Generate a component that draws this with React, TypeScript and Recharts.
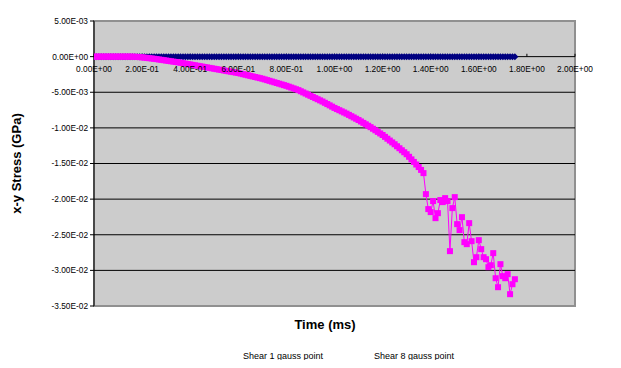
import React from 'react';
import { ScatterChart, Scatter, XAxis, YAxis, ReferenceLine, ReferenceArea } from 'recharts';

const time = [
  0, 0.01, 0.02, 0.03, 0.04, 0.05, 0.06, 0.07, 0.08, 0.09,
  0.1, 0.11, 0.12, 0.13, 0.14, 0.15, 0.16, 0.17, 0.18, 0.19,
  0.2, 0.21, 0.22, 0.23, 0.24, 0.25, 0.26, 0.27, 0.28, 0.29,
  0.3, 0.31, 0.32, 0.33, 0.34, 0.35, 0.36, 0.37, 0.38, 0.39,
  0.4, 0.41, 0.42, 0.43, 0.44, 0.45, 0.46, 0.47, 0.48, 0.49,
  0.5, 0.51, 0.52, 0.53, 0.54, 0.55, 0.56, 0.57, 0.58, 0.59,
  0.6, 0.61, 0.62, 0.63, 0.64, 0.65, 0.66, 0.67, 0.68, 0.69,
  0.7, 0.71, 0.72, 0.73, 0.74, 0.75, 0.76, 0.77, 0.78, 0.79,
  0.8, 0.81, 0.82, 0.83, 0.84, 0.85, 0.86, 0.87, 0.88, 0.89,
  0.9, 0.91, 0.92, 0.93, 0.94, 0.95, 0.96, 0.97, 0.98, 0.99,
  1.0, 1.01, 1.02, 1.03, 1.04, 1.05, 1.06, 1.07, 1.08, 1.09,
  1.1, 1.11, 1.12, 1.13, 1.14, 1.15, 1.16, 1.17, 1.18, 1.19,
  1.2, 1.21, 1.22, 1.23, 1.24, 1.25, 1.26, 1.27, 1.28, 1.29,
  1.3, 1.31, 1.32, 1.33, 1.34, 1.35, 1.36, 1.37, 1.38, 1.39,
  1.4, 1.41, 1.42, 1.43, 1.44, 1.45, 1.46, 1.47, 1.48, 1.49,
  1.5, 1.51, 1.52, 1.53, 1.54, 1.55, 1.56, 1.57, 1.58, 1.59,
  1.6, 1.61, 1.62, 1.63, 1.64, 1.65, 1.66, 1.67, 1.68, 1.69,
  1.7, 1.71, 1.72, 1.73, 1.74, 1.75,
];

const shear1 = [
  0, 0, 0, 0, 0, 0, 0, 0, 0, 0, 0, 0, 0, 0, 0, 0, 0, 0, 0, 0,
  0, 0, 0, 0, 0, 0, 0, 0, 0, 0, 0, 0, 0, 0, 0, 0, 0, 0, 0, 0,
  0, 0, 0, 0, 0, 0, 0, 0, 0, 0, 0, 0, 0, 0, 0, 0, 0, 0, 0, 0,
  0, 0, 0, 0, 0, 0, 0, 0, 0, 0, 0, 0, 0, 0, 0, 0, 0, 0, 0, 0,
  0, 0, 0, 0, 0, 0, 0, 0, 0, 0, 0, 0, 0, 0, 0, 0, 0, 0, 0, 0,
  0, 0, 0, 0, 0, 0, 0, 0, 0, 0, 0, 0, 0, 0, 0, 0, 0, 0, 0, 0,
  0, 0, 0, 0, 0, 0, 0, 0, 0, 0, 0, 0, 0, 0, 0, 0, 0, 0, 0, 0,
  0, 0, 0, 0, 0, 0, 0, 0, 0, 0, 0, 0, 0, 0, 0, 0, 0, 0, 0, 0,
  0, 0, 0, 0, 0, 0, 0, 0, 0, 0, 0, 0, 0, 0, 0, 0,
];

const shear8 = [
  0, 0, 0, 0, 0, 0, 0, 0, 0, 0,
  0, 0, 0, 0, 0, 0, -0.00001, -0.00002, -0.00004, -0.00007,
  -0.0001, -0.00014, -0.00018, -0.00022, -0.00026, -0.0003, -0.00035, -0.0004, -0.00045, -0.0005,
  -0.00055, -0.0006, -0.00065, -0.0007, -0.00075, -0.0008, -0.00086, -0.00092, -0.00098, -0.00104,
  -0.0011, -0.00116, -0.00122, -0.00128, -0.00134, -0.0014, -0.00146, -0.00152, -0.00158, -0.00164,
  -0.0017, -0.00176, -0.00182, -0.00188, -0.00194, -0.002, -0.00206, -0.00212, -0.00218, -0.00224,
  -0.0023, -0.00238, -0.00246, -0.00254, -0.00262, -0.0027, -0.00278, -0.00286, -0.00294, -0.00302,
  -0.0031, -0.0032, -0.0033, -0.0034, -0.0035, -0.0036, -0.0037, -0.0038, -0.0039, -0.004,
  -0.0041, -0.00422, -0.00434, -0.00446, -0.00458, -0.0047, -0.00486, -0.00502, -0.00518, -0.00534,
  -0.0055, -0.00566, -0.00582, -0.00598, -0.00614, -0.0063, -0.00648, -0.00666, -0.00684, -0.00702,
  -0.0072, -0.00736, -0.00752, -0.00768, -0.00784, -0.008, -0.00818, -0.00836, -0.00854, -0.00872,
  -0.0089, -0.0091, -0.0093, -0.0095, -0.0097, -0.0099, -0.01012, -0.01034, -0.01056, -0.01078,
  -0.011, -0.01126, -0.01152, -0.01178, -0.01204, -0.0123, -0.01258, -0.01286, -0.01314, -0.01342,
  -0.0137, -0.01406, -0.01442, -0.01478, -0.01514, -0.0155, -0.0159,
  -0.01635, -0.0193, -0.0214, -0.02182, -0.02028, -0.02267, -0.02197, -0.02013, -0.02042, -0.01986,
  -0.02028, -0.0273, -0.02126, -0.01972, -0.02351, -0.02435, -0.02253, -0.02604, -0.02632, -0.02337,
  -0.0259, -0.02885, -0.02815, -0.02576, -0.02702, -0.02815, -0.02843, -0.02955, -0.02927, -0.02758,
  -0.0311, -0.03236, -0.02913, -0.03081, -0.0311, -0.03053, -0.03334, -0.03194, -0.03124,
];

const xTicks = [0, 0.2, 0.4, 0.6, 0.8, 1.0, 1.2, 1.4, 1.6, 1.8, 2.0];
const yTicks = [0.005, 0, -0.005, -0.01, -0.015, -0.02, -0.025, -0.03, -0.035];
const seriesNames = ['Shear 1 gauss point', 'Shear 8 gauss point'];
const xTitle = 'Time (ms)';
const yTitle = 'x-y Stress (GPa)';

const FONT = '"Liberation Sans", Arial, sans-serif';

const fmt = (v: number) => {
  if (Math.abs(v) < 1e-12) return '0.00E+00';
  const s = v.toExponential(2);
  const [m, e] = s.split('e');
  const sign = e[0] === '-' ? '-' : '+';
  const digits = e.replace(/[+-]/, '').padStart(2, '0');
  return `${m}E${sign}${digits}`;
};

const blueData = shear1.map((y, i) => ({ x: time[i], y }));
const pinkData = shear8.map((y, i) => ({ x: time[i], y }));

const Diamond = (p: any) => (
  <polygon
    points={`${p.cx},${p.cy - 3.5} ${p.cx + 3.5},${p.cy} ${p.cx},${p.cy + 3.5} ${p.cx - 3.5},${p.cy}`}
    fill="#000080"
  />
);

const Square = (p: any) => (
  <rect x={p.cx - 3} y={p.cy - 3} width={6} height={6} fill="#FF00FF" />
);

const legendStyle: React.CSSProperties = {
  position: 'absolute', top: 343, width: 200, textAlign: 'center',
  fontSize: 9, lineHeight: '11px', color: '#000', whiteSpace: 'nowrap',
};

export default function App() {
  return (
    <div style={{ position: 'relative', width: 605, height: 352, fontFamily: FONT }}>
      <ScatterChart width={605} height={352} margin={{ top: 13, right: 38, bottom: 54, left: 0 }}>
        <XAxis type="number" dataKey="x" domain={[0, 2]} ticks={xTicks} hide allowDataOverflow />
        <YAxis
          type="number"
          dataKey="y"
          domain={[-0.035, 0.005]}
          ticks={yTicks}
          interval={0}
          allowDataOverflow
          width={86}
          tickFormatter={fmt}
          tick={{ fontSize: 8.3, fill: '#000', fontFamily: FONT }}
          tickSize={4}
          axisLine={{ stroke: '#000' }}
          tickLine={{ stroke: '#000' }}
          label={{
            value: yTitle,
            angle: -90,
            position: 'insideLeft',
            offset: 8,
            style: { textAnchor: 'middle', fontWeight: 'bold', fontSize: 13, fontFamily: FONT, fill: '#000' },
          }}
        />
        <ReferenceArea
          x1={0}
          x2={2}
          y1={-0.035}
          y2={0.005}
          fill="#CCCCCC"
          fillOpacity={1}
          stroke="#909090"
          strokeWidth={2}
        />
        {yTicks.slice(2, -1).map((v) => (
          <ReferenceLine key={`g${v}`} y={v} stroke="#000" strokeWidth={1} />
        ))}
        <ReferenceLine y={0} stroke="#000" strokeWidth={1} />
        {xTicks.map((t) => (
          <ReferenceLine
            key={`t${t}`}
            segment={[{ x: t, y: 0 }, { x: t, y: 0.0004 }]}
            stroke="#000"
            label={{ value: fmt(t), position: 'bottom', offset: 9, fontSize: 8.3, fill: '#000', fontFamily: FONT }}
          />
        ))}
        <Scatter
          name={seriesNames[0]}
          data={blueData}
          fill="#000080"
          line={{ stroke: '#000080', strokeWidth: 1 }}
          shape={Diamond}
          isAnimationActive={false}
        />
        <Scatter
          name={seriesNames[1]}
          data={pinkData}
          fill="#FF00FF"
          line={{ stroke: '#FF00FF', strokeWidth: 1 }}
          shape={Square}
          isAnimationActive={false}
        />
      </ScatterChart>
      <div
        style={{
          position: 'absolute', left: 217, top: 309, width: 200, textAlign: 'center',
          fontSize: 13, lineHeight: '15px', fontWeight: 'bold', color: '#000',
        }}
      >
        {xTitle}
      </div>
      <div style={{ ...legendStyle, left: 175 }}>{seriesNames[0]}</div>
      <div style={{ ...legendStyle, left: 306 }}>{seriesNames[1]}</div>
    </div>
  );
}
